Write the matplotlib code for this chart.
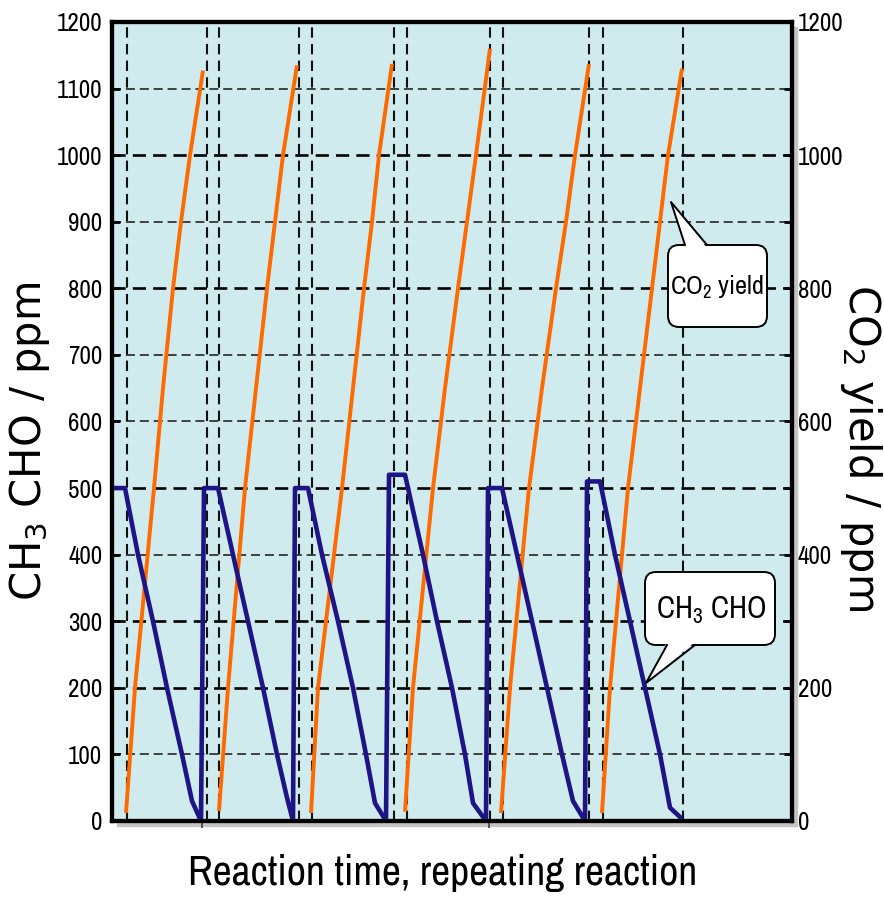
import numpy as np
import matplotlib
matplotlib.use("Agg")
import matplotlib.pyplot as plt
from matplotlib.patches import FancyBboxPatch, Polygon, Rectangle

NARROW = ["Archivo Narrow", "Liberation Sans", "DejaVu Sans"]
plt.rcParams["font.family"] = NARROW

# time axis in arbitrary units (chart shows no time scale)
# CH3CHO concentration, one continuous trace over six repeated runs
cho_t = [0.0, 1.3, 2.6, 4.1, 5.5, 7.0, 8.0, 8.9,
         9.2, 10.6, 12.1, 13.6, 15.1, 16.5, 17.5, 18.1,
         18.3, 19.6, 21.0, 22.6, 24.1, 25.4, 26.3, 27.4,
         27.7, 29.3, 31.1, 32.5, 34.0, 35.3, 36.1, 37.4,
         37.6, 39.0, 40.5, 42.0, 43.5, 45.0, 46.1, 47.3,
         47.5, 48.8, 50.3, 51.8, 53.3, 54.8, 55.8, 56.8]
cho_ppm = [500, 500, 400, 300, 200, 100, 30, 0,
           500, 500, 400, 300, 200, 100, 35, 0,
           500, 500, 400, 300, 200, 100, 27, 0,
           520, 520, 400, 300, 200, 100, 27, 0,
           500, 500, 400, 300, 200, 100, 30, 0,
           510, 510, 400, 300, 200, 100, 20, 6]

# CO2 yield, one rising segment per run
co2_t = [[1.4, 2.3, 4.2, 5.1, 6.1, 6.9, 7.8, 9.1],
         [10.7, 11.6, 13.3, 14.4, 15.5, 16.3, 17.1, 18.5],
         [19.9, 20.6, 23.0, 24.1, 25.2, 26.0, 26.7, 28.0],
         [29.3, 30.1, 32.1, 33.3, 34.6, 35.5, 36.4, 37.8],
         [38.9, 39.8, 41.7, 43.0, 44.4, 45.4, 46.3, 47.7],
         [49.0, 49.8, 51.6, 52.8, 54.0, 54.8, 55.6, 57.0]]
co2_ppm = [[12, 200, 500, 650, 800, 900, 1000, 1127],
           [15, 200, 500, 650, 800, 900, 1000, 1135],
           [12, 200, 500, 650, 800, 900, 1000, 1137],
           [14, 200, 500, 650, 800, 900, 1000, 1160],
           [12, 200, 500, 650, 800, 900, 1000, 1137],
           [12, 200, 500, 650, 800, 900, 1000, 1130]]

# start / end of each run (vertical dashed markers)
cycle_marks = [1.5, 9.5, 10.7, 18.7, 20.0, 28.2, 29.5, 37.8, 39.1, 47.7, 49.1, 57.1]
heavy_levels = [200, 300, 500, 800, 1000]

BG = "#cfebee"
ORANGE = "#ff6a00"
NAVY = "#1f1485"

fig = plt.figure(figsize=(8.84, 9.0), dpi=100)
ax = fig.add_axes([112 / 884, 79 / 900, 680 / 884, 799 / 900])
ax.set_facecolor(BG)
ax.set_xlim(0, 68)
ax.set_ylim(0, 1200)

# frame shadow
fig.patches.append(Rectangle((117 / 884, 74 / 900), 680 / 884, 799 / 900,
                             transform=fig.transFigure, color="#c4c4c4", zorder=-1))

for lvl in range(100, 1200, 100):
    heavy = lvl in heavy_levels
    ax.axhline(lvl, color="#000000" if heavy else "#333333",
               lw=1.9 if heavy else 1.3, ls=(0, (5, 2.7)), zorder=1)
for xm in cycle_marks:
    ax.axvline(xm, color="#111111", lw=1.5, ls=(0, (5, 3)), zorder=1)

for t, v in zip(co2_t, co2_ppm):
    ax.plot(t, v, color=ORANGE, lw=2.8, solid_capstyle="butt", zorder=3)
ax.plot(cho_t, cho_ppm, color=NAVY, lw=3.3, zorder=4)

for s in ax.spines.values():
    s.set_linewidth(3)
ax.set_xticks([])
ax.set_xticks([9.0, 37.7], minor=True)
ax.tick_params(axis="x", which="minor", direction="out", length=5, width=1.5,
               color="#555555", labelbottom=False)
ax.set_yticks(np.arange(0, 1201, 100))
ax.tick_params(axis="y", direction="in", length=6, width=2, labelsize=18, pad=7)

ax2 = ax.twinx()
ax2.set_ylim(0, 1200)
ax2.set_yticks(np.arange(0, 1201, 200))
ax2.set_yticks(np.arange(0, 1201, 100), minor=True)
ax2.tick_params(axis="y", which="both", direction="in", length=6, width=2,
                labelsize=18, pad=4)
for s in ax2.spines.values():
    s.set_linewidth(3)

fig.text(30 / 884, 1 - 441 / 900, r"CH$_\mathregular{3}$ CHO / ppm", rotation=90,
         ha="center", va="center", fontsize=30, family="DejaVu Sans")
fig.text(861 / 884, 1 - 448 / 900, r"CO$_\mathregular{2}$ yield / ppm", rotation=270,
         ha="center", va="center", fontsize=30, family="DejaVu Sans")
fig.text(443 / 884, 1 - 873 / 900, "Reaction time, repeating reaction",
         ha="center", va="center", fontsize=30)

# callouts, drawn in figure pixel space
deco = fig.add_axes([0, 0, 1, 1])
deco.set_xlim(0, 884)
deco.set_ylim(900, 0)
deco.axis("off")
deco.set_zorder(5)


def callout(box, base, tip, label, size, center):
    x0, y0, x1, y1 = box
    deco.add_patch(FancyBboxPatch((x0, y0), x1 - x0, y1 - y0,
                                  boxstyle="round,pad=0,rounding_size=11",
                                  fc="white", ec="black", lw=1.4))
    (bx0, by), (bx1, _) = base
    inward = 3 if by == y0 else -3
    deco.add_patch(Polygon([(bx0, by + inward), tip, (bx1, by + inward)],
                           closed=True, fc="white", ec="none"))
    deco.plot([bx0, tip[0], bx1], [by, tip[1], by], color="black", lw=1.4)
    deco.text(center[0], center[1], label, ha="center", va="center", fontsize=size)


callout((668, 245, 767, 327), [(685, 245), (707, 245)], (671, 202),
        r"CO$_\mathregular{2}$ yield", 19, (717, 287))
callout((645, 572, 775, 645), [(667, 645), (695, 645)], (646, 683),
        r"CH$_\mathregular{3}$ CHO", 22, (711, 610))

fig.savefig("out.png", dpi=100)
